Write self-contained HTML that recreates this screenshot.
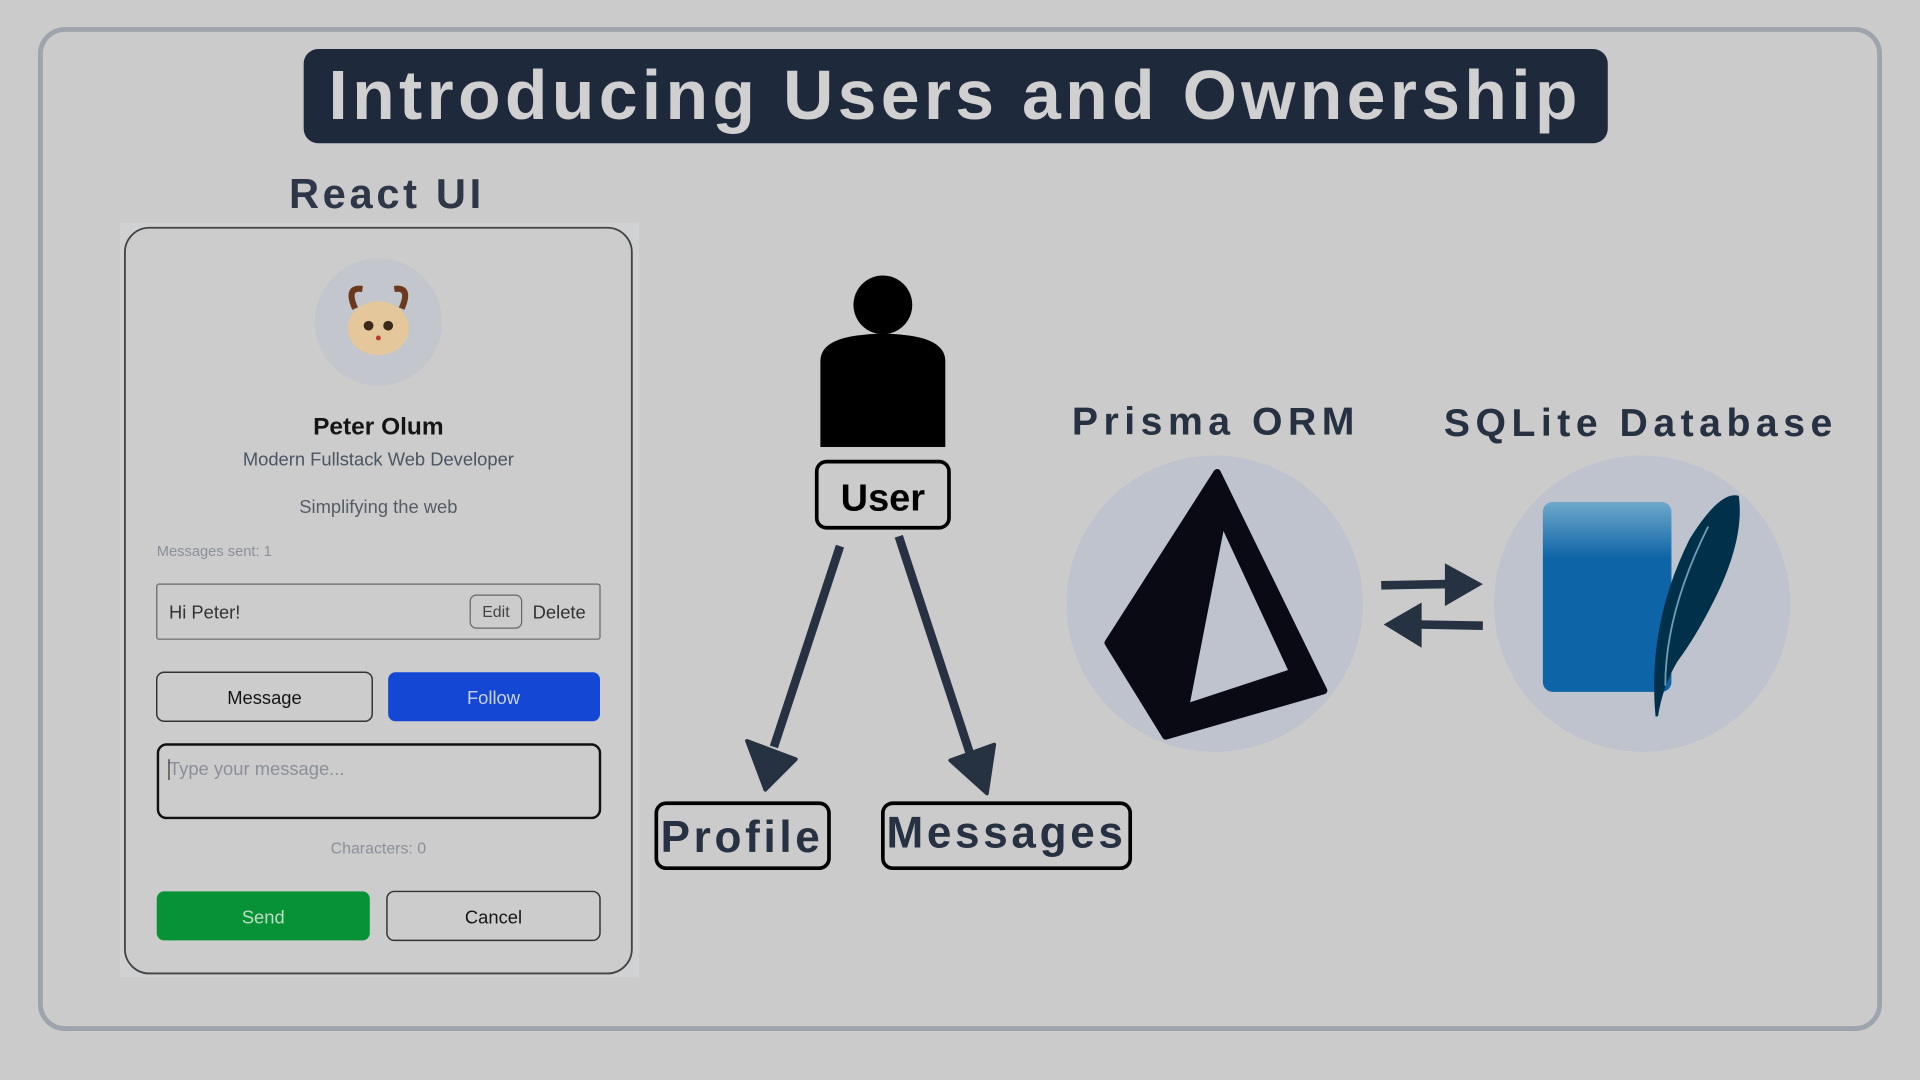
<!DOCTYPE html>
<html><head><meta charset="utf-8"><style>
html,body{margin:0;padding:0;background:#cbcbcb;}
svg{display:block}
text{font-family:"Liberation Sans",sans-serif;}
</style></head><body>
<svg width="1920" height="1080" viewBox="0 0 1568 882" xmlns="http://www.w3.org/2000/svg">
<defs>
<linearGradient id="g" x1="0" y1="0" x2="0" y2="1">
<stop offset="0" stop-color="#6fa8cc"/><stop offset="0.3" stop-color="#0d64a6"/><stop offset="1" stop-color="#0d64a6"/>
</linearGradient>
</defs>
<rect x="0" y="0" width="1568" height="882" fill="#cbcbcb"/>
<rect x="33" y="24" width="1502" height="816" rx="20" fill="none" stroke="#9ea4ad" stroke-width="4"/>
<rect x="248" y="40" width="1065" height="77" rx="12" fill="#1e293b"/>
<text x="780" y="97" text-anchor="middle" font-size="57" font-weight="bold" fill="#d0d0d0" letter-spacing="3.5">Introducing Users and Ownership</text>
<text x="316" y="170" text-anchor="middle" font-size="34" font-weight="bold" fill="#2d3748" letter-spacing="3">React UI</text>

<rect x="98" y="182" width="424" height="616" fill="#d0d1d3"/>
<rect x="102" y="186" width="414" height="609" rx="20" fill="#cccccc" stroke="#444" stroke-width="1.5"/>
<circle cx="309" cy="263" r="52" fill="#c3c6cc"/>
<ellipse cx="309" cy="268" rx="25" ry="22" fill="#e4c79a"/>
<path d="M290 252 q-8 -18 6 -16 M328 252 q8 -18 -6 -16" stroke="#6b3a1e" stroke-width="5" fill="none"/>
<circle cx="301" cy="266" r="4" fill="#3a2a1a"/><circle cx="317" cy="266" r="4" fill="#3a2a1a"/>
<circle cx="309" cy="276" r="2" fill="#c0392b"/>
<text x="309" y="355" text-anchor="middle" font-size="20" font-weight="bold" fill="#151515">Peter Olum</text>
<text x="309" y="380" text-anchor="middle" font-size="15" fill="#4b5563">Modern Fullstack Web Developer</text>
<text x="309" y="419" text-anchor="middle" font-size="15" fill="#555c66">Simplifying the web</text>
<text x="128" y="454" font-size="12" fill="#8a8f99">Messages sent: 1</text>
<rect x="128" y="477" width="362" height="45" rx="2" fill="none" stroke="#777" stroke-width="1.2"/>
<text x="138" y="505" font-size="15" fill="#333">Hi Peter!</text>
<rect x="384" y="486" width="42" height="27" rx="5" fill="none" stroke="#666" stroke-width="1"/>
<text x="405" y="504" text-anchor="middle" font-size="13" fill="#444">Edit</text>
<text x="435" y="505" font-size="15" fill="#333">Delete</text>
<rect x="128" y="549" width="176" height="40" rx="6" fill="none" stroke="#333" stroke-width="1.2"/>
<text x="216" y="575" text-anchor="middle" font-size="15" fill="#151515">Message</text>
<rect x="317" y="549" width="173" height="40" rx="6" fill="#1447d4"/>
<text x="403" y="575" text-anchor="middle" font-size="15" fill="#c8d4ee">Follow</text>
<rect x="129" y="608" width="361" height="60" rx="7" fill="none" stroke="#111" stroke-width="2"/>
<text x="138" y="633" font-size="15" fill="#8a8f99">Type your message...</text>
<line x1="138" y1="620" x2="138" y2="637" stroke="#333" stroke-width="1"/>
<text x="309" y="697" text-anchor="middle" font-size="13" fill="#8a8f99">Characters: 0</text>
<rect x="128" y="728" width="174" height="40" rx="6" fill="#079236"/>
<text x="215" y="754" text-anchor="middle" font-size="15" fill="#c0dcc8">Send</text>
<rect x="316" y="728" width="174" height="40" rx="6" fill="none" stroke="#333" stroke-width="1.2"/>
<text x="403" y="754" text-anchor="middle" font-size="15" fill="#151515">Cancel</text>

<ellipse cx="721" cy="249" rx="24" ry="24" fill="#000"/>
<path d="M670 365 V295 Q670 278 700 274 Q721 271 742 274 Q772 278 772 295 V365 Z" fill="#000"/>
<rect x="667" y="377" width="108" height="54" rx="8" fill="none" stroke="#000" stroke-width="3"/>
<text x="721" y="417" text-anchor="middle" font-size="31" font-weight="bold" fill="#000">User</text>
<line x1="686" y1="446" x2="632" y2="610" stroke="#263142" stroke-width="7"/>
<polygon points="610,605 650,620 625,645" fill="#263142" stroke="#263142" stroke-width="3" stroke-linejoin="round"/>
<line x1="734" y1="438" x2="792" y2="615" stroke="#263142" stroke-width="7"/>
<polygon points="776,621 812,608 806,648" fill="#263142" stroke="#263142" stroke-width="3" stroke-linejoin="round"/>
<rect x="536" y="656" width="141" height="53" rx="8" fill="none" stroke="#000" stroke-width="3"/>
<text x="606" y="696" text-anchor="middle" font-size="36" font-weight="bold" fill="#263142" letter-spacing="3">Profile</text>
<rect x="721" y="656" width="202" height="53" rx="8" fill="none" stroke="#000" stroke-width="3"/>
<text x="822" y="692" text-anchor="middle" font-size="36" font-weight="bold" fill="#263142" letter-spacing="3">Messages</text>

<text x="993" y="355" text-anchor="middle" font-size="32" font-weight="bold" fill="#263142" letter-spacing="4.5">Prisma ORM</text>
<text x="1340" y="356" text-anchor="middle" font-size="32" font-weight="bold" fill="#263142" letter-spacing="4.5">SQLite Database</text>
<circle cx="992" cy="493" r="121" fill="#bec3cd"/>
<circle cx="1341" cy="493" r="121" fill="#bec3cd"/>
<path fill-rule="evenodd" fill="#0a0a14" stroke="#0a0a14" stroke-width="6" stroke-linejoin="round" d="M994 386 L1081 564 L952 601 L905 525 Z M998 424 L1056 549 L968 578 Z"/>
<line x1="1128" y1="478" x2="1182" y2="477" stroke="#263142" stroke-width="7"/>
<polygon points="1180,460 1211,477 1180,495" fill="#263142"/>
<line x1="1158" y1="510" x2="1211" y2="511" stroke="#263142" stroke-width="7"/>
<polygon points="1161,492 1130,510 1161,529" fill="#263142"/>
<rect x="1260" y="410" width="105" height="155" rx="8" fill="url(#g)"/>
<path d="M1352 585 Q1345 510 1380 440 Q1405 400 1420 405 Q1425 440 1400 490 Q1385 520 1370 540 Q1358 560 1354 585 Z" fill="#00304a"/>
<path d="M1360 560 Q1360 500 1395 430" stroke="#6f9bb4" stroke-width="1.5" fill="none"/>
</svg>
</body></html>
